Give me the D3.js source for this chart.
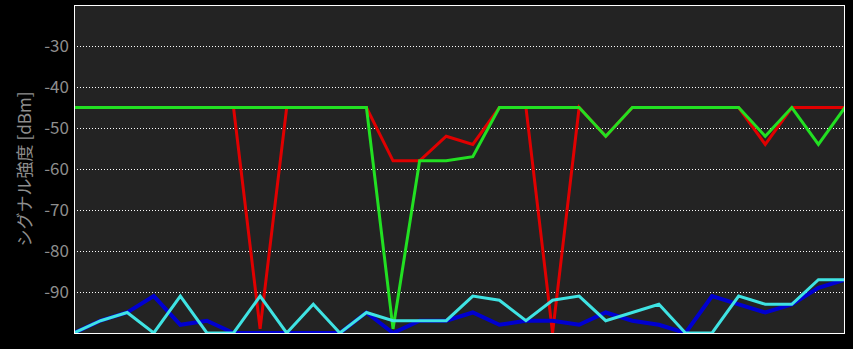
<!DOCTYPE html>
<html>
<head>
<meta charset="utf-8">
<script src="https://cdn.jsdelivr.net/npm/d3@7"></script>
<style>
  html, body { margin: 0; padding: 0; background: #000; }
  svg { display: block; }
</style>
</head>
<body>
<svg id="chart" width="853" height="349"></svg>
<script>
// samples along x, one per measurement
const samples = d3.range(30);
const yTicks = [-30, -40, -50, -60, -70, -80, -90];
const yLabel = "シグナル強度 [dBm]";

const redValues = [-45, -45, -45, -45, -45, -45, -45, -99, -45, -45, -45, -45, -58, -58, -52, -54, -45, -45, -100, -45, -52, -45, -45, -45, -45, -45, -54, -45, -45, -45];
const greenValues = [-45, -45, -45, -45, -45, -45, -45, -45, -45, -45, -45, -45, -99, -58, -58, -57, -45, -45, -45, -45, -52, -45, -45, -45, -45, -45, -52, -45, -54, -45];
const blueValues = [-100, -97, -95, -91, -98, -97, -100, -100, -100, -100, -100, -95, -100, -97, -97, -95, -98, -97, -97, -98, -95, -97, -98, -100, -91, -93, -95, -93, -89, -87];
const cyanValues = [-100, -97, -95, -100, -91, -100, -100, -91, -100, -93, -100, -95, -97, -97, -97, -91, -92, -97, -92, -91, -97, -95, -93, -100, -100, -91, -93, -93, -87, -87];

const series = [
  { name: "red", values: redValues, color: "#e00000", width: 3 },
  { name: "green", values: greenValues, color: "#22e022", width: 3 },
  { name: "blue", values: blueValues, color: "#0000d0", width: 4 },
  { name: "cyan", values: cyanValues, color: "#3fe3e3", width: 3 }
];

const width = 853, height = 349;
const margin = { top: 5, right: 8, bottom: 16, left: 74 };
const plotW = width - margin.left - margin.right;
const plotH = height - margin.top - margin.bottom;

const svg = d3.select("#chart");

const x = d3.scaleLinear().domain([0, samples.length - 1]).range([0, plotW]);
const y = d3.scaleLinear().domain([-100, -20]).range([plotH, 0]);

const g = svg.append("g").attr("transform", `translate(${margin.left},${margin.top})`);

g.append("rect")
  .attr("width", plotW)
  .attr("height", plotH)
  .attr("fill", "#232323");

svg.append("defs").append("clipPath").attr("id", "plot-clip")
  .append("rect").attr("width", plotW).attr("height", plotH);

// dotted grid + labels (plain hyphen minus like the original)
const yAxis = d3.axisLeft(y)
  .tickValues(yTicks)
  .tickFormat(d => String(d))
  .tickSize(-plotW)
  .tickPadding(5);
const axisG = g.append("g").call(yAxis);
axisG.select(".domain").remove();
axisG.selectAll(".tick line")
  .attr("stroke", "#fff")
  .attr("stroke-width", 1)
  .attr("stroke-dasharray", "1,2");
axisG.selectAll(".tick text")
  .attr("fill", "#8e8e8e")
  .attr("font-family", "'Noto Sans CJK JP', 'Noto Sans', sans-serif")
  .attr("font-size", 17);

svg.append("text")
  .attr("transform", `translate(31,${margin.top + plotH / 2}) rotate(-90)`)
  .attr("text-anchor", "middle")
  .attr("fill", "#8e8e8e")
  .attr("font-family", "'Noto Sans CJK JP', sans-serif")
  .attr("font-size", 17)
  .text(yLabel);

const line = d3.line()
  .x((d, i) => x(samples[i]))
  .y(d => y(d));

g.append("g").attr("clip-path", "url(#plot-clip)")
  .selectAll("path")
  .data(series)
  .join("path")
  .attr("d", d => line(d.values))
  .attr("fill", "none")
  .attr("stroke", d => d.color)
  .attr("stroke-width", d => d.width)
  .attr("stroke-linejoin", "miter");

g.append("rect")
  .attr("x", 0.5)
  .attr("y", 0.5)
  .attr("width", plotW - 1)
  .attr("height", plotH)
  .attr("fill", "none")
  .attr("stroke", "#fff")
  .attr("stroke-width", 1);
</script>
</body>
</html>
